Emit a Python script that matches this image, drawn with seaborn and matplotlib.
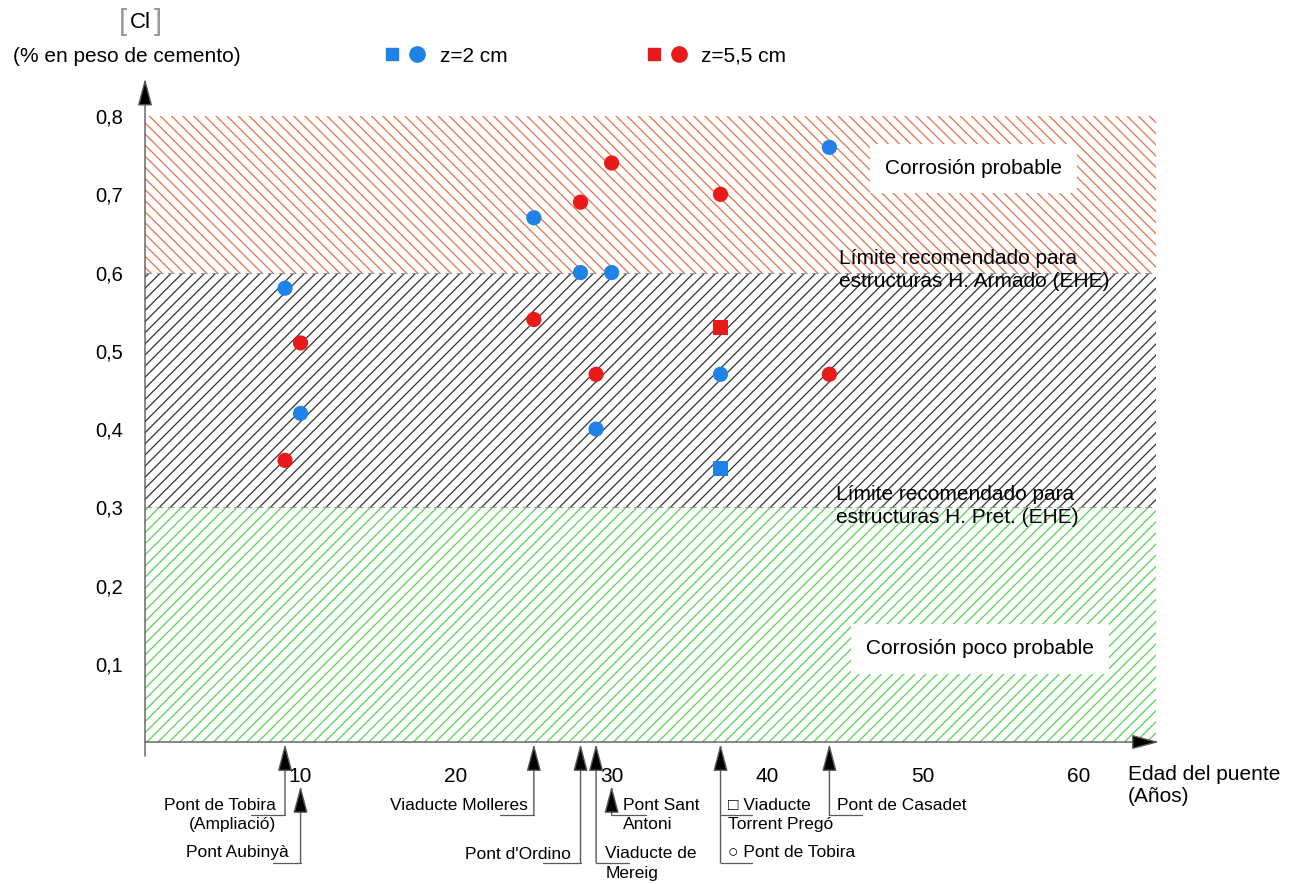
import matplotlib
matplotlib.use("Agg")
import matplotlib.pyplot as plt
import matplotlib.transforms as mtransforms
from matplotlib.lines import Line2D
from matplotlib.legend_handler import HandlerTuple
import seaborn as sns
import pandas as pd

# datos
edad = [9, 9, 10, 10, 25, 25, 28, 28, 29, 29, 30, 30, 37, 37, 37, 37, 44, 44]
cloruros = [0.58, 0.36, 0.51, 0.42, 0.67, 0.54, 0.69, 0.60, 0.47, 0.40,
            0.74, 0.60, 0.70, 0.53, 0.47, 0.35, 0.76, 0.47]
profundidad = ["z=2 cm", "z=5,5 cm", "z=5,5 cm", "z=2 cm", "z=2 cm", "z=5,5 cm",
               "z=5,5 cm", "z=2 cm", "z=5,5 cm", "z=2 cm", "z=5,5 cm", "z=2 cm",
               "z=5,5 cm", "z=5,5 cm", "z=2 cm", "z=2 cm", "z=2 cm", "z=5,5 cm"]
forma = ["circulo", "circulo", "circulo", "circulo", "circulo", "circulo",
         "circulo", "circulo", "circulo", "circulo", "circulo", "circulo",
         "circulo", "cuadrado", "circulo", "cuadrado", "circulo", "circulo"]

puentes = ["Pont de Tobira\n(Ampliació)", "Pont Aubinyà", "Viaducte Molleres",
           "Pont d'Ordino", "Viaducte de\nMereig", "Pont Sant\nAntoni",
           "\u25a1 Viaducte\nTorrent Pregó", "Pont de Casadet"]
edad_puentes = [9, 10, 25, 28, 29, 30, 37, 44]

zonas_lim = [0.0, 0.3, 0.6, 0.8]
edad_max = 65
x_ticks = [0, 10, 20, 30, 40, 50, 60]
x_labels = ["", "10", "20", "30", "40", "50", "60"]
y_ticks = [0.1, 0.2, 0.3, 0.4, 0.5, 0.6, 0.7, 0.8]
y_labels = ["0,1", "0,2", "0,3", "0,4", "0,5", "0,6", "0,7", "0,8"]

df = pd.DataFrame({"edad": edad, "cl": cloruros, "z": profundidad, "forma": forma})

sns.set_theme(style="white")
plt.rcParams["font.family"] = ["Liberation Sans", "DejaVu Sans"]
plt.rcParams["text.color"] = "black"
plt.rcParams["xtick.color"] = "black"
plt.rcParams["ytick.color"] = "black"
plt.rcParams["hatch.linewidth"] = 0.9

azul = "#1f82e6"
rojo = "#e81a1a"
gris = "0.35"

fig = plt.figure(figsize=(12.96, 8.84), dpi=100)
ax = fig.add_axes([0.1119, 0.1606, 0.7801, 0.7081])
ax.set_xlim(0, edad_max)
ax.set_ylim(0, 0.8)

# zonas rayadas
zonas = [("#52d452", "///"), ("#333333", "///"), ("#e8704a", "\\\\\\")]
for i, (c, h) in enumerate(zonas):
    ax.fill_between([0, edad_max], zonas_lim[i], zonas_lim[i + 1], facecolor="none",
                    edgecolor=c, hatch=h, linewidth=0, zorder=1)
for lim in zonas_lim[1:3]:
    ax.axhline(lim, color="0.6", lw=0.8, ls=(0, (6, 4)), zorder=2)

sns.scatterplot(data=df, x="edad", y="cl", hue="z", style="forma",
                palette={"z=2 cm": azul, "z=5,5 cm": rojo},
                markers={"circulo": "o", "cuadrado": "s"},
                s=120, edgecolor="none", legend=False, ax=ax, zorder=5)

sns.despine(ax=ax, left=True, bottom=True)
ax.set_xlabel("")
ax.set_ylabel("")
ax.set_xticks(x_ticks)
ax.set_xticklabels(x_labels, fontsize=15)
ax.set_yticks(y_ticks)
ax.set_yticklabels(y_labels, fontsize=14.5)
ax.tick_params(axis="x", direction="inout", length=20, width=0.8, color=gris, pad=8)
ax.tick_params(axis="y", direction="inout", length=18, width=0.8, color=gris, pad=7)

# ejes con flecha
flecha = dict(arrowstyle="-|>,head_length=1.7,head_width=0.45", ec=gris, fc="black",
              lw=1.0, shrinkA=0, shrinkB=0, mutation_scale=10)
ax.annotate("", xy=(0, 0.848), xytext=(0, -0.018), arrowprops=flecha, annotation_clip=False)
ax.annotate("", xy=(edad_max + 0.2, 0), xytext=(0, 0), arrowprops=flecha, annotation_clip=False)

# textos de zonas
ax.text(53.25, 0.733, "Corrosión probable", fontsize=15, ha="center", va="center",
        bbox=dict(facecolor="white", edgecolor="none", pad=11), zorder=6)
ax.text(53.7, 0.119, "Corrosión poco probable", fontsize=15, ha="center", va="center",
        bbox=dict(facecolor="white", edgecolor="none", pad=11), zorder=6)
ax.text(44.6, 0.603, "Límite recomendado para\nestructuras H. Armado (EHE)",
        fontsize=15, ha="left", va="center", linespacing=1.25, zorder=6)
ax.text(44.4, 0.302, "Límite recomendado para\nestructuras H. Pret. (EHE)",
        fontsize=15, ha="left", va="center", linespacing=1.25, zorder=6)

# etiquetas de puentes bajo el eje x
trans = mtransforms.blended_transform_factory(ax.transData, ax.transAxes)
eje, bajo_num = -0.003, -0.07
alto, bajo = -0.117, -0.193
guias = [
    dict(punta=eje, base=alto, fin=-2.2, tx=8.4, ty=alto, ha="right"),
    dict(punta=bajo_num, base=bajo, fin=-1.8, tx=9.22, ty=-0.176, ha="right"),
    dict(punta=eje, base=alto, fin=-2.2, tx=24.6, ty=-0.101, ha="right"),
    dict(punta=eje, base=bajo, fin=-2.4, tx=27.35, ty=-0.179, ha="right"),
    dict(punta=eje, base=bajo, fin=2.1, tx=29.6, ty=-0.194, ha="left"),
    dict(punta=bajo_num, base=alto, fin=2.2, tx=30.75, ty=alto, ha="left"),
    dict(punta=eje, base=bajo, fin=2.0, tx=37.5, ty=alto, ha="left"),
    dict(punta=eje, base=alto, fin=2.1, tx=44.5, ty=-0.101, ha="left"),
]
for nombre, x, g in zip(puentes, edad_puentes, guias):
    ax.annotate("", xy=(x, g["punta"]), xytext=(x, g["base"]), xycoords=trans,
                textcoords=trans, arrowprops=flecha, annotation_clip=False)
    ax.plot([x, x + g["fin"]], [g["base"], g["base"]], color=gris, lw=0.9,
            transform=trans, clip_on=False)
    ax.text(g["tx"], g["ty"], nombre, transform=trans, fontsize=12.5, ha=g["ha"],
            va="center", linespacing=1.35)
# segundo puente a los 37 anos
ax.plot([37, 39], [alto, alto], color=gris, lw=0.9, transform=trans, clip_on=False)
ax.text(37.5, -0.176, "\u25cb Pont de Tobira", transform=trans, fontsize=12.5,
        ha="left", va="center")

# titulos de ejes
fig.text(1128 / 1296, 1 - 786 / 884, "Edad del puente\n(Años)", fontsize=15,
         ha="left", va="center", linespacing=1.2)
fig.text(127 / 1296, 1 - 57 / 884, "(% en peso de cemento)", fontsize=15,
         ha="center", va="center")
fig.text(140 / 1296, 1 - 22 / 884, "Cl", fontsize=16, ha="center", va="center")
fig.text(123 / 1296, 1 - 22 / 884, "[", fontsize=21, color="0.6", ha="center",
         va="center", fontweight="light")
fig.text(158 / 1296, 1 - 22 / 884, "]", fontsize=21, color="0.6", ha="center",
         va="center", fontweight="light")

# leyenda
h_azul = (Line2D([], [], marker="s", ls="", color=azul, markersize=9),
          Line2D([], [], marker="o", ls="", color=azul, markersize=11))
h_rojo = (Line2D([], [], marker="s", ls="", color=rojo, markersize=9),
          Line2D([], [], marker="o", ls="", color=rojo, markersize=11))
fig.legend([h_azul, h_rojo], ["z=2 cm", "z=5,5 cm"], ncol=2, frameon=False,
           handler_map={tuple: HandlerTuple(ndivide=None, pad=0.2)},
           loc="center left", bbox_to_anchor=(363 / 1296, 1 - 56 / 884),
           fontsize=15, handlelength=2.2, handletextpad=0.6, columnspacing=6.5)

fig.savefig("out.png", dpi=100)
